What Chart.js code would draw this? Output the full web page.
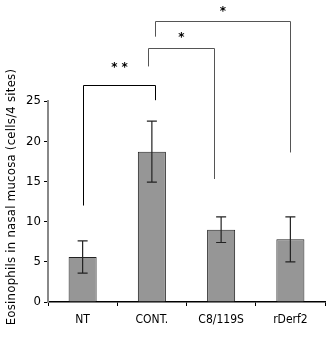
<!DOCTYPE html>
<html>
<head>
<meta charset="utf-8">
<script src="https://cdn.jsdelivr.net/npm/chart.js@4"></script>
<style>
  html, body { margin: 0; padding: 0; background: #fff; }
  #wrap { width: 336px; height: 340px; }
</style>
</head>
<body>
<div id="wrap"><canvas id="myChart" width="336" height="340"></canvas></div>
<script>
const categories = ['NT', 'CONT.', 'C8/119S', 'rDerf2'];
const means = [5.6, 18.7, 9.0, 7.8];
const errors = [2.0, 3.8, 1.6, 2.8];
const yTicks = [0, 5, 10, 15, 20, 25];
const yTitle = 'Eosinophils in nasal mucosa (cells/4 sites)';

// significance brackets (x in category units, y in data units)
const bracketFrom = [0, 0.94, 1.05];
const bracketTo = [1.05, 1.89, 3];
const bracketTop = [27.0, 31.6, 34.9];
const bracketLeftEnd = [12.0, 29.3, 33.0];
const bracketRightEnd = [25.1, 15.3, 18.6];
const bracketLabels = ['* *', '*', '*'];
const bracketLabelY = [29.1, 32.8, 36.1];
const bracketColors = ['#000', '#555', '#555'];

const extras = {
  id: 'extras',
  afterDatasetsDraw(chart) {
    const ctx = chart.ctx;
    const x = chart.scales.x, y = chart.scales.y;
    ctx.save();
    // error bars
    ctx.strokeStyle = '#222';
    ctx.lineWidth = 1.2;
    means.forEach((m, i) => {
      const px = x.getPixelForValue(i);
      const top = y.getPixelForValue(m + errors[i]);
      const bot = y.getPixelForValue(m - errors[i]);
      ctx.beginPath();
      ctx.moveTo(px, top); ctx.lineTo(px, bot);
      ctx.moveTo(px - 5, top); ctx.lineTo(px + 5, top);
      ctx.moveTo(px - 5, bot); ctx.lineTo(px + 5, bot);
      ctx.stroke();
    });
    // brackets
    ctx.lineWidth = 1;
    bracketFrom.forEach((f, i) => {
      const x1 = Math.round(x.getPixelForValue(f)) + 0.5;
      const x2 = Math.round(x.getPixelForValue(bracketTo[i])) + 0.5;
      const yt = Math.round(y.getPixelForValue(bracketTop[i])) + 0.5;
      ctx.strokeStyle = bracketColors[i];
      ctx.beginPath();
      ctx.moveTo(x1, y.getPixelForValue(bracketLeftEnd[i]));
      ctx.lineTo(x1, yt);
      ctx.lineTo(x2, yt);
      ctx.lineTo(x2, y.getPixelForValue(bracketRightEnd[i]));
      ctx.stroke();
      ctx.fillStyle = '#000';
      ctx.font = 'bold 12px "DejaVu Sans"';
      ctx.textAlign = 'center';
      ctx.textBaseline = 'middle';
      ctx.fillText(bracketLabels[i], (x1 + x2) / 2, y.getPixelForValue(bracketLabelY[i]));
    });
    // y axis title
    ctx.translate(12, 197);
    ctx.rotate(-Math.PI / 2);
    ctx.fillStyle = '#000';
    ctx.font = '13px "DejaVu Sans Condensed", "DejaVu Sans"';
    ctx.letterSpacing = '0.25px';
    ctx.textAlign = 'center';
    ctx.textBaseline = 'middle';
    ctx.fillText(yTitle, 0, 0);
    ctx.restore();
  }
};

const data = {
  labels: categories,
  datasets: [{
    data: means,
    backgroundColor: '#969696',
    borderColor: '#222',
    borderWidth: 1,
    categoryPercentage: 1,
    barPercentage: 0.405
  }]
};

const config = {
  type: 'bar',
  data: data,
  plugins: [extras],
  options: {
    responsive: false,
    animation: false,
    layout: { padding: { top: 101, right: 11, left: 0, bottom: 0 } },
    plugins: {
      legend: { display: false },
      tooltip: { enabled: false }
    },
    scales: {
      x: {
        afterFit: (s) => { s.height = 38; },
        border: { color: '#000', width: 1.5 },
        grid: { offset: true, drawOnChartArea: false, tickLength: 4, color: '#000' },
        ticks: {
          color: '#000',
          padding: 7,
          font: { family: '"DejaVu Sans Condensed", "DejaVu Sans"', size: 12 }
        }
      },
      y: {
        min: 0,
        max: 25,
        afterFit: (s) => { s.width = 48; },
        afterBuildTicks: (s) => { s.ticks = yTicks.map(v => ({ value: v })); },
        border: { color: '#888', width: 2 },
        grid: { drawOnChartArea: false, tickLength: 4, color: '#000' },
        ticks: {
          color: '#000',
          padding: 3,
          font: { family: '"DejaVu Sans Condensed", "DejaVu Sans"', size: 13 }
        }
      }
    }
  }
};

const canvas = document.getElementById('myChart');
const myChart = new Chart(canvas, config);
</script>
</body>
</html>
